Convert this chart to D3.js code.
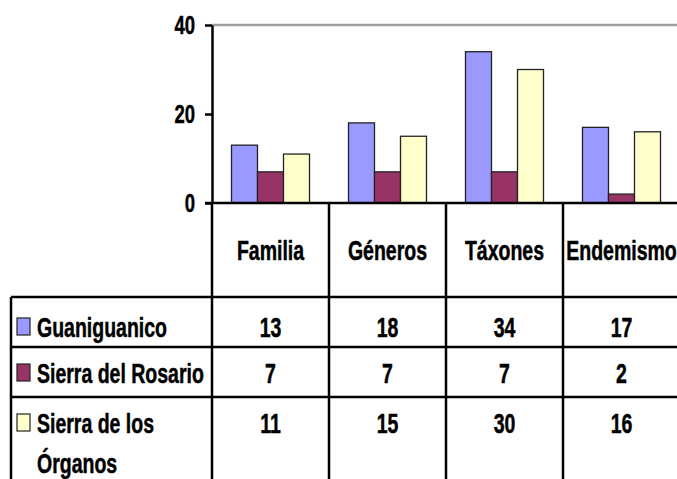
<!DOCTYPE html>
<html lang="es">
<head>
  <meta charset="UTF-8">
  <title>Guaniguanico</title>
  <style>
    body { margin: 0; background: #fff; }
    svg { display: block; }
    .lbl { font-family: "Liberation Sans", Arial, sans-serif; font-weight: bold; fill: #000; stroke: #000; stroke-width: 0.35px; }
  </style>
</head>
<body>
<div id="chart"></div>

<script src="https://cdn.jsdelivr.net/npm/d3@7/dist/d3.min.js"></script>
<script>
  const categories = ["Familia", "Géneros", "Táxones", "Endemismo"];
  const seriesNames = ["Guaniguanico", "Sierra del Rosario", "Sierra de los Órganos"];
  const guaniguanico = [13, 18, 34, 17];
  const sierraRosario = [7, 7, 7, 2];
  const sierraOrganos = [11, 15, 30, 16];
  const yTicks = [0, 20, 40];

  const seriesValues = [guaniguanico, sierraRosario, sierraOrganos];
  const colors = ["#9999ff", "#993366", "#ffffcc"];

  const width = 677, height = 479;
  const plot = {left: 212, right: 680, top: 25, bottom: 203};
  const tableLeft = 11;
  const rowLines = [297, 347, 397];   // horizontal rules of the data table
  const rowCenters = [327, 373, 423];
  const headerY = 250;

  const svg = d3.select("#chart").append("svg")
    .attr("width", width)
    .attr("height", height);

  const x = d3.scaleBand()
    .domain(categories)
    .range([plot.left, plot.right]);

  const xSub = d3.scaleBand()
    .domain(seriesNames)
    .range([0, x.bandwidth()])
    .paddingInner(0)
    .paddingOuter(0.75);

  const y = d3.scaleLinear()
    .domain([0, 40])
    .range([plot.bottom, plot.top]);

  // stretched bold text (the original uses a tall narrow face)
  function label(txt, cx, cy, anchor, size, sy) {
    return svg.append("text")
      .attr("class", "lbl")
      .attr("transform", "translate(" + cx + "," + cy + ") scale(1," + sy + ")")
      .attr("dy", "0.36em")
      .attr("text-anchor", anchor)
      .style("font-size", size + "px")
      .text(txt);
  }

  // top gridline
  svg.append("line")
    .attr("x1", plot.left).attr("x2", plot.right)
    .attr("y1", y(40)).attr("y2", y(40))
    .attr("stroke", "#a0a0a0")
    .attr("stroke-width", 2.5);

  // bars
  const groups = svg.selectAll(".grp")
    .data(categories)
    .enter().append("g")
    .attr("class", "grp")
    .attr("transform", d => "translate(" + x(d) + ",0)");

  groups.selectAll("rect")
    .data((d, i) => seriesNames.map((s, j) => ({s: s, j: j, v: seriesValues[j][i]})))
    .enter().append("rect")
    .attr("x", d => xSub(d.s))
    .attr("y", d => y(d.v))
    .attr("width", xSub.bandwidth())
    .attr("height", d => y(0) - y(d.v))
    .attr("fill", d => colors[d.j])
    .attr("stroke", "#222")
    .attr("stroke-width", 1.3);

  // y axis
  const yAxis = svg.append("g")
    .attr("transform", "translate(" + plot.left + ",0)")
    .call(d3.axisLeft(y).tickValues(yTicks).tickSize(7).tickSizeOuter(0).tickPadding(10));
  yAxis.select(".domain").attr("stroke", "#000").attr("stroke-width", 2.5);
  yAxis.selectAll(".tick line").attr("stroke", "#000").attr("stroke-width", 2.5);
  yAxis.selectAll(".tick text").remove();
  yTicks.forEach(t => label(t, 195, y(t), "end", 18.5, 1.35));

  // baseline
  svg.append("line")
    .attr("x1", plot.left - 7).attr("x2", plot.right)
    .attr("y1", y(0)).attr("y2", y(0))
    .attr("stroke", "#000").attr("stroke-width", 2.5);

  // table grid
  categories.forEach(c => {
    svg.append("line")
      .attr("x1", x(c)).attr("x2", x(c))
      .attr("y1", y(0)).attr("y2", height)
      .attr("stroke", "#000").attr("stroke-width", 2.5);
  });
  svg.append("line")
    .attr("x1", tableLeft).attr("x2", tableLeft)
    .attr("y1", rowLines[0]).attr("y2", height)
    .attr("stroke", "#000").attr("stroke-width", 2.5);
  rowLines.forEach(ry => {
    svg.append("line")
      .attr("x1", tableLeft).attr("x2", plot.right)
      .attr("y1", ry).attr("y2", ry)
      .attr("stroke", "#000").attr("stroke-width", 2.5);
  });

  // column headers
  categories.forEach(c => label(c, x(c) + x.bandwidth() / 2, headerY, "middle", 19.5, 1.4));

  // row labels with legend keys
  seriesNames.forEach((s, j) => {
    svg.append("rect")
      .attr("x", 17).attr("y", rowCenters[j] - 9)
      .attr("width", 13).attr("height", 17)
      .attr("fill", colors[j])
      .attr("stroke", "#222").attr("stroke-width", 1.2);
    if (j === 2) {
      label("Sierra de los", 37, rowCenters[j], "start", 19.5, 1.4);
      label("Órganos", 37, rowCenters[j] + 40, "start", 19.5, 1.4);
    } else {
      label(s, 37, rowCenters[j], "start", 19.5, 1.4);
    }
    categories.forEach((c, i) => {
      label(seriesValues[j][i], x(c) + x.bandwidth() / 2, rowCenters[j], "middle", 19.5, 1.4);
    });
  });
</script>
</body>
</html>
